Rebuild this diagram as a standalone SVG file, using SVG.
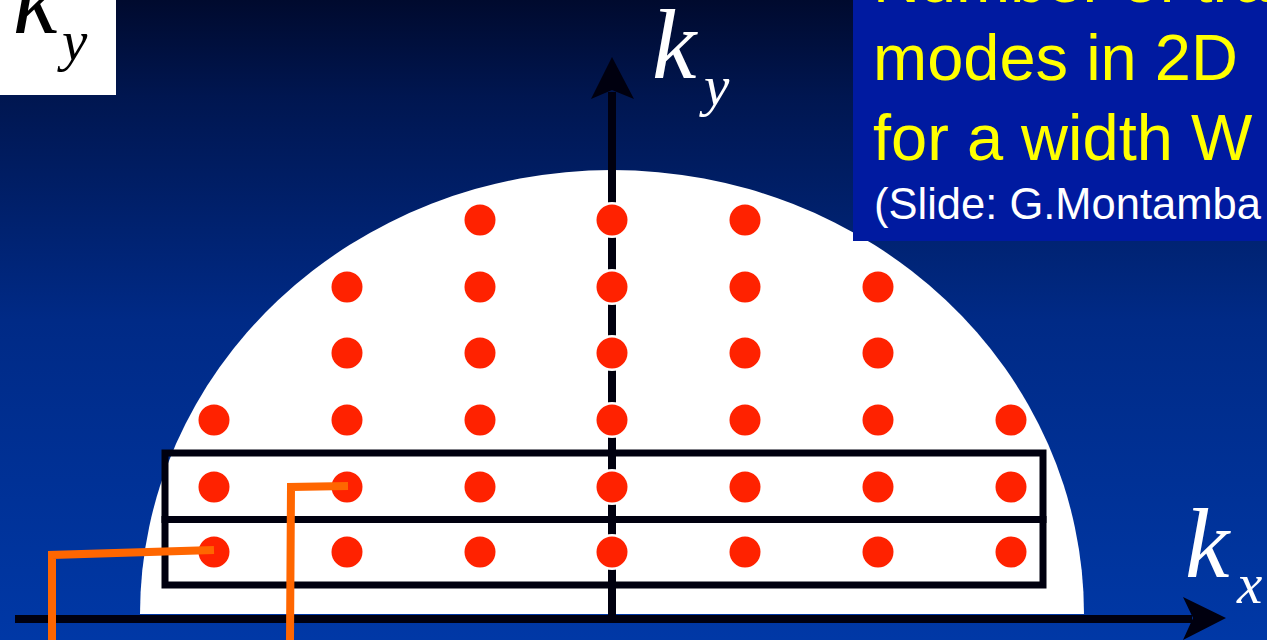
<svg xmlns="http://www.w3.org/2000/svg" width="1267" height="640" viewBox="0 0 1267 640">
  <defs>
    <linearGradient id="bg" x1="0" y1="0" x2="0" y2="1">
      <stop offset="0" stop-color="#000a2e"/>
      <stop offset="0.15" stop-color="#001650"/>
      <stop offset="0.5" stop-color="#002a86"/>
      <stop offset="1" stop-color="#0038a6"/>
    </linearGradient>
  </defs>
  <style>
    .dot { fill: #ff2200; }
    .halo { fill: #ffffff; }
    .axis { stroke: #00000f; stroke-width: 8; fill: none; }
    .box { stroke: #00000f; stroke-width: 7; fill: none; }
    .lead { stroke: #ff6600; stroke-width: 8; fill: none; stroke-linejoin: miter; }
    .kl { font-family: "Liberation Serif", "DejaVu Serif", serif; font-style: italic; }
    .title { font-family: "Liberation Sans", Arial, sans-serif; fill: #ffff00; font-size: 65px; }
    .credit { font-family: "Liberation Sans", Arial, sans-serif; fill: #ffffff; font-size: 43.5px; }
  </style>

  <rect id="background" x="0" y="0" width="1267" height="640" fill="url(#bg)"/>

  <g id="disk">
    <path d="M140,614 A472,444 0 0 1 1084,614 Z" fill="#ffffff"/>
  </g>

  <g id="axes">
    <line class="axis" x1="612" y1="620" x2="612" y2="92"/>
    <path d="M612,57 L634,99 L612,90 L591,99 Z" fill="#00000f"/>
    <line class="axis" x1="15" y1="619" x2="1192" y2="619"/>
    <path d="M1226,618 L1183,597 L1193,618 L1183,640 Z" fill="#00000f"/>
  </g>

  <g id="strips">
    <rect class="box" x="165" y="453" width="878" height="66.5"/>
    <rect class="box" x="165" y="519.5" width="878" height="65.5"/>
  </g>

  <g id="modes">
    <g id="halos">
      <circle class="halo" cx="612" cy="220" r="18"/>
      <circle class="halo" cx="612" cy="287" r="18"/>
      <circle class="halo" cx="612" cy="353" r="18"/>
      <circle class="halo" cx="612" cy="420" r="18"/>
      <circle class="halo" cx="612" cy="487" r="18"/>
      <circle class="halo" cx="612" cy="552" r="18"/>
    </g>
    <g id="row1">
      <circle class="dot" cx="480" cy="220" r="15.5"/>
      <circle class="dot" cx="612" cy="220" r="15.5"/>
      <circle class="dot" cx="745" cy="220" r="15.5"/>
    </g>
    <g id="row2">
      <circle class="dot" cx="347" cy="287" r="15.5"/>
      <circle class="dot" cx="480" cy="287" r="15.5"/>
      <circle class="dot" cx="612" cy="287" r="15.5"/>
      <circle class="dot" cx="745" cy="287" r="15.5"/>
      <circle class="dot" cx="878" cy="287" r="15.5"/>
    </g>
    <g id="row3">
      <circle class="dot" cx="347" cy="353" r="15.5"/>
      <circle class="dot" cx="480" cy="353" r="15.5"/>
      <circle class="dot" cx="612" cy="353" r="15.5"/>
      <circle class="dot" cx="745" cy="353" r="15.5"/>
      <circle class="dot" cx="878" cy="353" r="15.5"/>
    </g>
    <g id="row4">
      <circle class="dot" cx="214" cy="420" r="15.5"/>
      <circle class="dot" cx="347" cy="420" r="15.5"/>
      <circle class="dot" cx="480" cy="420" r="15.5"/>
      <circle class="dot" cx="612" cy="420" r="15.5"/>
      <circle class="dot" cx="745" cy="420" r="15.5"/>
      <circle class="dot" cx="878" cy="420" r="15.5"/>
      <circle class="dot" cx="1011" cy="420" r="15.5"/>
    </g>
    <g id="row5">
      <circle class="dot" cx="214" cy="487" r="15.5"/>
      <circle class="dot" cx="347" cy="487" r="15.5"/>
      <circle class="dot" cx="480" cy="487" r="15.5"/>
      <circle class="dot" cx="612" cy="487" r="15.5"/>
      <circle class="dot" cx="745" cy="487" r="15.5"/>
      <circle class="dot" cx="878" cy="487" r="15.5"/>
      <circle class="dot" cx="1011" cy="487" r="15.5"/>
    </g>
    <g id="row6">
      <circle class="dot" cx="214" cy="552" r="15.5"/>
      <circle class="dot" cx="347" cy="552" r="15.5"/>
      <circle class="dot" cx="480" cy="552" r="15.5"/>
      <circle class="dot" cx="612" cy="552" r="15.5"/>
      <circle class="dot" cx="745" cy="552" r="15.5"/>
      <circle class="dot" cx="878" cy="552" r="15.5"/>
      <circle class="dot" cx="1011" cy="552" r="15.5"/>
    </g>
  </g>

  <g id="connectors">
    <path class="lead" d="M214,550 L52,555 L52,640"/>
    <path class="lead" d="M348,486 L291,487 L290,640"/>
  </g>

  <g id="label-ky-corner">
    <rect x="0" y="0" width="116" height="95" fill="#ffffff"/>
    <text class="kl" x="13" y="33" font-size="100" fill="#000000">k</text>
    <text class="kl" x="62" y="60" font-size="57" fill="#000000">y</text>
  </g>

  <g id="label-ky">
    <text class="kl" x="652" y="78" font-size="100" fill="#ffffff">k</text>
    <text class="kl" x="704" y="105" font-size="57" fill="#ffffff">y</text>
  </g>

  <g id="label-kx">
    <text class="kl" x="1185" y="577" font-size="100" fill="#ffffff">k</text>
    <text class="kl" x="1237" y="603" font-size="57" fill="#ffffff">x</text>
  </g>

  <g id="caption">
    <rect x="853" y="0" width="414" height="241" fill="#001aa0"/>
    <text class="title" x="873" y="2">Number of tra</text>
    <text class="title" x="873" y="80">modes in 2D</text>
    <text class="title" x="873" y="160">for a width W</text>
    <text class="credit" x="874" y="219">(Slide: G.Montamba</text>
  </g>
</svg>
